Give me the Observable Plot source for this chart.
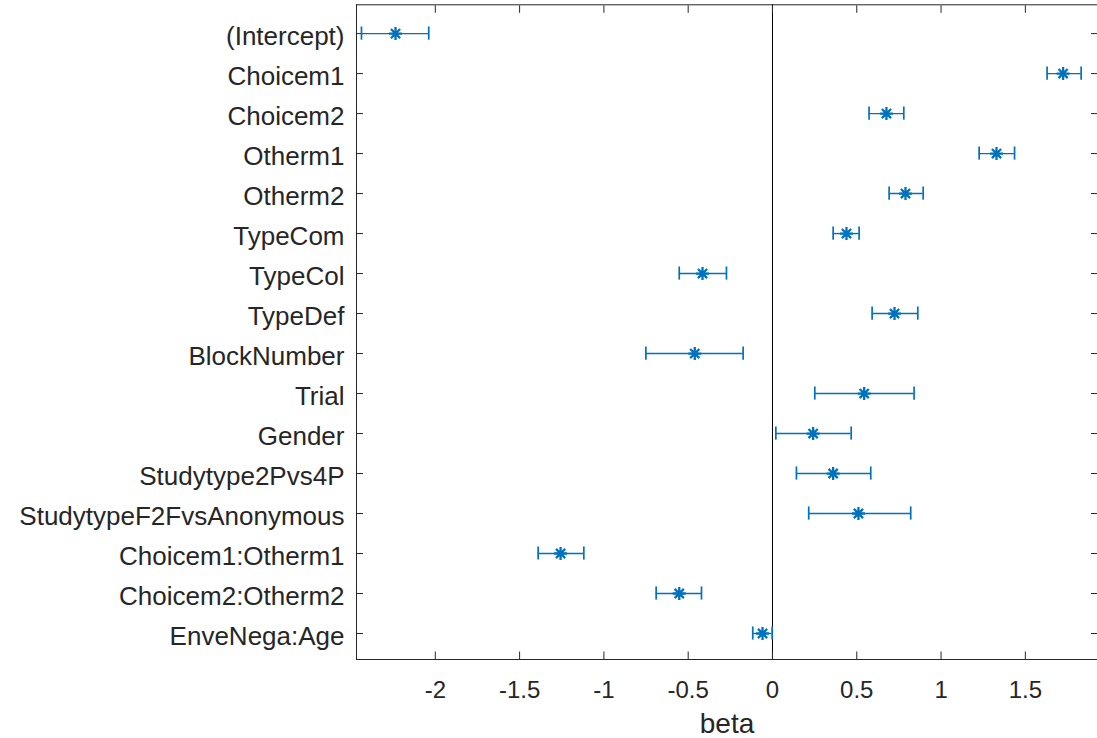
<!DOCTYPE html>
<html>
<head>
<meta charset="utf-8">
<script src="https://cdn.jsdelivr.net/npm/d3@7"></script>
<script src="https://cdn.jsdelivr.net/npm/@observablehq/plot@0.6"></script>
<style>
  html, body { margin: 0; padding: 0; background: #ffffff; }
  #chart { width: 1097px; height: 738px; overflow: hidden; }
</style>
</head>
<body>
<div id="chart"></div>
<script>
// ---- data ----
const terms = [
  "(Intercept)", "Choicem1", "Choicem2", "Otherm1", "Otherm2",
  "TypeCom", "TypeCol", "TypeDef", "BlockNumber", "Trial", "Gender",
  "Studytype2Pvs4P", "StudytypeF2FvsAnonymous",
  "Choicem1:Otherm1", "Choicem2:Otherm2", "EnveNega:Age"
];
const beta  = [-2.236, 1.724, 0.676, 1.329, 0.789, 0.439, -0.415, 0.724, -0.461, 0.544, 0.241, 0.360, 0.510, -1.257, -0.553, -0.059];
const lower = [-2.438, 1.629, 0.573, 1.226, 0.692, 0.360, -0.553, 0.591, -0.751, 0.251, 0.020, 0.142, 0.215, -1.390, -0.690, -0.117];
const upper = [-2.039, 1.831, 0.779, 1.436, 0.894, 0.514, -0.273, 0.862, -0.174, 0.840, 0.467, 0.583, 0.820, -1.119, -0.421, -0.002];
const xTicks = [-2, -1.5, -1, -0.5, 0, 0.5, 1, 1.5];
const xLabel = "beta";

// ---- derived table ----
const rows = terms.map((t, i) => ({term: t, idx: i + 1, beta: beta[i], lo: lower[i], hi: upper[i]}));
const yTicks = rows.map(d => d.idx);

const xDomain = [-2.4675, 1.928];
const yDomain = [0.28, 16.65];
const capHalf = 0.165;

const blue = "#0072BD";
const ink = "#262626";

// MATLAB-style '*' marker: eight arms
const star8 = {
  draw(context, size) {
    const r = Math.sqrt(size / Math.PI);
    const d = r * Math.SQRT1_2;
    context.moveTo(-r, 0); context.lineTo(r, 0);
    context.moveTo(0, -r); context.lineTo(0, r);
    context.moveTo(-d, -d); context.lineTo(d, d);
    context.moveTo(-d, d); context.lineTo(d, -d);
  }
};

const chart = Plot.plot({
  width: 1097,
  height: 738,
  marginLeft: 356,
  marginRight: 0,
  marginTop: 4.3,
  marginBottom: 79,
  style: {fontFamily: "'Liberation Sans', Arial, Helvetica, sans-serif", color: ink, background: "white"},
  x: {domain: xDomain},
  y: {domain: yDomain, reverse: true},
  marks: [
    // frame (left, top, bottom)
    Plot.ruleX([xDomain[0]], {stroke: ink, strokeWidth: 1}),
    Plot.ruleY([yDomain[0], yDomain[1]], {stroke: ink, strokeWidth: 1}),
    // zero line
    Plot.ruleX([0], {stroke: "#000", strokeWidth: 1}),
    // inward tick marks on all sides
    Plot.axisX({anchor: "bottom", ticks: xTicks, tickSize: -7.5, tickFormat: () => "", label: null, stroke: ink}),
    Plot.axisX({anchor: "top", ticks: xTicks, tickSize: -7.5, tickFormat: () => "", label: null, stroke: ink}),
    Plot.axisY({anchor: "left", ticks: yTicks, tickSize: -7, tickFormat: () => "", label: null, stroke: ink}),
    Plot.axisY({anchor: "right", ticks: yTicks, tickSize: -7, tickFormat: () => "", label: null, stroke: ink}),
    // tick labels
    Plot.axisX({anchor: "bottom", ticks: xTicks, tickSize: 0, tickPadding: 21, tickFormat: d => String(d),
      fontSize: 24, fill: ink, label: null}),
    Plot.axisY({anchor: "left", ticks: yTicks, tickSize: 0, tickPadding: 12, tickFormat: i => terms[i - 1],
      fontSize: 26, fill: ink, label: null, dy: 3}),
    // axis title
    Plot.text([xLabel], {text: d => d, frameAnchor: "bottom", lineAnchor: "middle", dy: 65, fontSize: 28, fill: ink}),
    // error bars
    Plot.ruleY(rows, {y: "idx", x1: "lo", x2: "hi", stroke: blue, strokeWidth: 1.4}),
    Plot.ruleX(rows, {x: "lo", y1: d => d.idx - capHalf, y2: d => d.idx + capHalf, stroke: blue, strokeWidth: 1.7}),
    Plot.ruleX(rows, {x: "hi", y1: d => d.idx - capHalf, y2: d => d.idx + capHalf, stroke: blue, strokeWidth: 1.7}),
    // estimates
    Plot.dot(rows, {x: "beta", y: "idx", symbol: star8, r: 6.5, fill: "none", stroke: blue, strokeWidth: 2.3})
  ]
});
document.getElementById("chart").appendChild(chart);
</script>
</body>
</html>
